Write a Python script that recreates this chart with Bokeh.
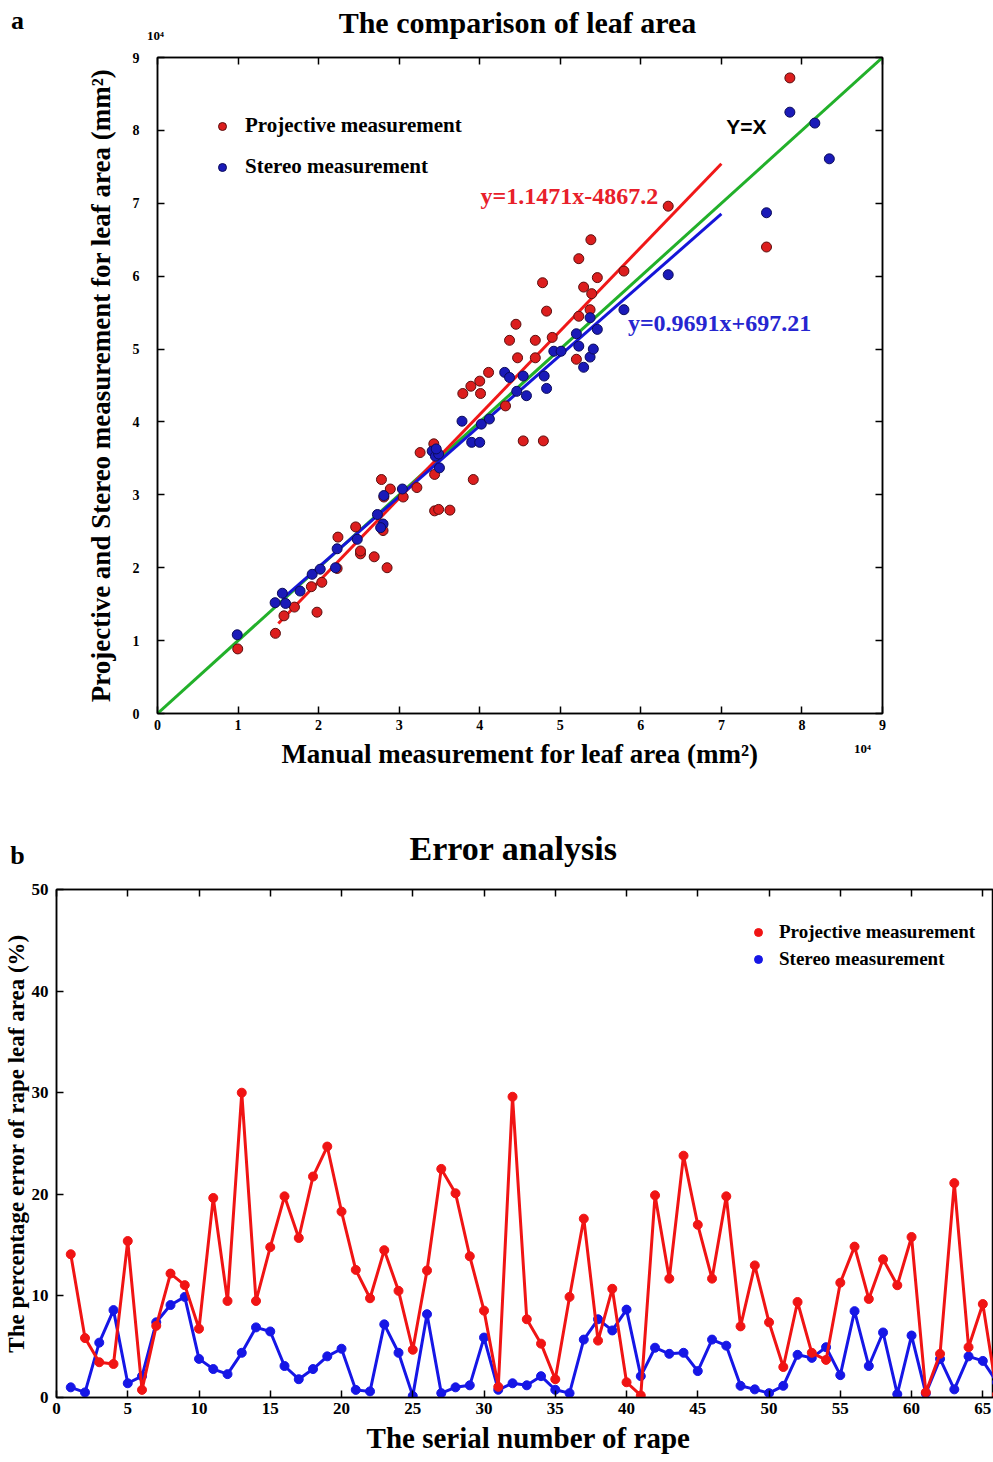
from bokeh.plotting import figure
from bokeh.models import (Range1d, LinearAxis, Label, Legend, LegendItem,
                          CustomJSTickFormatter, FixedTicker)
from bokeh.embed import file_html
from bokeh.resources import INLINE

SERIF = "Liberation Serif"

# ---------------- Panel a data (mm^2) ----------------
proj_manual = [9960, 14640, 15700, 17000, 19100, 19800, 20400, 22300, 22400, 24600,
               25200, 25200, 26900, 28000, 28500, 27800, 28100, 28900, 30500, 32200,
               32600, 34300, 34400, 34400, 34900, 36300, 39200, 37900, 38900, 40000,
               40100, 41100, 43200, 44700, 43700, 46900, 46900, 45400, 47900, 52000,
               44500, 49000, 52300, 53700, 48300, 47800, 52900, 53900, 54600, 52300,
               53800, 57900, 63400, 75600, 78500]
proj_area = [8860, 11000, 13400, 14600, 17400, 13900, 18000, 19900, 24200, 25600,
             21900, 22300, 21500, 25100, 20000, 32100, 29700, 30800, 29700, 31000,
             35800, 37000, 32800, 27800, 28000, 27900, 32100, 43900, 44900, 45600,
             43900, 46800, 42200, 48800, 51200, 51200, 48800, 37400, 37400, 48600,
             53400, 51600, 54500, 55400, 55200, 59100, 58500, 57600, 59800, 62400,
             65000, 60700, 69600, 64000, 87200]

stereo_manual = [9900, 14600, 15500, 15900, 17700, 19200, 20200, 22100, 22300, 24800,
                 27300, 28000, 27700, 28100, 30400, 34100, 34500, 34900, 34600, 35000,
                 37800, 39000, 40000, 40200, 41200, 43100, 43700, 44600, 45400, 45800,
                 48000, 48300, 49200, 50100, 52300, 52900, 53700, 54100, 57900, 53700,
                 54600, 52000, 78500, 81600, 83400, 75600, 63400]
stereo_area = [10800, 15200, 16500, 15100, 16800, 19100, 19800, 20000, 22600, 23900,
               27300, 26000, 25500, 29900, 30800, 36000, 35300, 35600, 36300, 33700,
               40100, 37200, 37200, 39700, 40400, 46800, 46100, 44200, 46300, 43600,
               46300, 44600, 49700, 49700, 50400, 47500, 48900, 50000, 55400, 54300,
               52700, 52100, 82500, 81000, 76100, 68700, 60200]

identity_x = [0, 90000]
proj_fit_x = [15000, 70000]
stereo_fit_x = [15500, 70000]
proj_fit_y = [1.1471 * v - 4867.2 for v in proj_fit_x]
stereo_fit_y = [0.9691 * v + 697.21 for v in stereo_fit_x]
axis_ticks_a = [0, 10000, 20000, 30000, 40000, 50000, 60000, 70000, 80000, 90000]

# ---------------- Panel b data (%) ----------------
serial = list(range(1, 67))
proj_err = [14.1, 5.85, 3.47, 3.3, 15.4, 0.75, 7.05, 12.2, 11.06, 6.77,
            19.64, 9.5, 30.0, 9.5, 14.8, 19.8, 15.7, 21.75, 24.7, 18.3,
            12.56, 9.77, 14.5, 10.5, 4.7, 12.5, 22.5, 20.1, 13.9, 8.55,
            1.05, 29.6, 7.7, 5.3, 1.8, 9.9, 17.6, 5.6, 10.7, 1.5,
            0.2, 19.9, 11.7, 23.8, 17.0, 11.7, 19.8, 7.0, 13.0, 7.4,
            3.0, 9.4, 4.4, 3.7, 11.3, 14.85, 9.7, 13.6, 11.05, 15.8,
            0.5, 4.3, 21.1, 4.95, 9.2, 0.3]
stereo_err = [1.0, 0.5, 5.4, 8.6, 1.4, 2.1, 7.4, 9.1, 9.9, 3.8,
              2.8, 2.3, 4.4, 6.9, 6.5, 3.1, 1.8, 2.8, 4.05, 4.8,
              0.75, 0.6, 7.2, 4.4, 0.16, 8.2, 0.43, 1.0, 1.2, 5.9,
              0.76, 1.4, 1.2, 2.1, 0.76, 0.43, 5.7, 7.7, 6.6, 8.65,
              2.1, 4.9, 4.3, 4.4, 2.6, 5.7, 5.1, 1.15, 0.8, 0.43,
              1.15, 4.2, 3.9, 4.95, 2.2, 8.5, 3.1, 6.4, 0.33, 6.1,
              0.4, 3.8, 0.8, 4.05, 3.6, 1.5]
x_ticks_b = [0, 5, 10, 15, 20, 25, 30, 35, 40, 45, 50, 55, 60, 65]
y_ticks_b = [0, 10, 20, 30, 40, 50]

RED_PT, RED_EDGE = "#dc1e1e", "#5a0f0f"
BLUE_PT, BLUE_EDGE = "#1a1ab8", "#0c0c5a"
GREEN = "#22b02a"


def style_axis(ax, size="14px"):
    ax.major_tick_in = 7
    ax.major_tick_out = 0
    ax.minor_tick_line_color = None
    ax.axis_line_width = 1.5
    ax.major_tick_line_width = 1.5
    ax.major_label_text_font = SERIF
    ax.major_label_text_font_style = "bold"
    ax.major_label_text_font_size = size
    ax.major_label_text_color = "black"
    ax.axis_label_text_font = SERIF
    ax.axis_label_text_font_style = "bold"
    ax.axis_label_text_color = "black"


def canvas_text(text, x, y, size, color="black", font=SERIF, align="center"):
    return Label(x=x, y=y, x_units="canvas", y_units="canvas", text=text,
                 text_align=align, text_baseline="middle", text_color=color,
                 text_font=font, text_font_style="bold", text_font_size=size)


# ================= Panel a =================
p1 = figure(frame_width=725, frame_height=656,
            min_border_left=157, min_border_right=103,
            min_border_top=57, min_border_bottom=77,
            x_range=Range1d(0, 90000), y_range=Range1d(0, 90000),
            output_backend="svg", toolbar_location=None)
p1.grid.visible = False
p1.outline_line_color = "black"
p1.outline_line_width = 1.5

fmt_a = CustomJSTickFormatter(code="return (tick/10000).toFixed(0);")
blank = CustomJSTickFormatter(code="return '';")
for ax in (p1.xaxis[0], p1.yaxis[0]):
    ax.ticker = FixedTicker(ticks=axis_ticks_a)
    ax.formatter = fmt_a
    style_axis(ax, "14px")
    ax.axis_label_text_font_size = "27px"
p1.xaxis[0].axis_label = "Manual measurement for leaf area (mm²)"
p1.yaxis[0].axis_label = "Projective and Stereo measurement for leaf area (mm²)"
p1.xaxis[0].major_label_standoff = 6
p1.xaxis[0].axis_label_standoff = 6
p1.yaxis[0].major_label_standoff = 18
p1.yaxis[0].axis_label_standoff = 14
for loc in ("above", "right"):
    ax = LinearAxis(ticker=FixedTicker(ticks=axis_ticks_a), formatter=blank)
    style_axis(ax)
    ax.major_label_standoff = 0
    ax.major_label_text_font_size = "1px"
    p1.add_layout(ax, loc)

p1.line(identity_x, identity_x, line_color=GREEN, line_width=3)
p1.line(proj_fit_x, proj_fit_y, line_color="#f01818", line_width=3)
p1.line(stereo_fit_x, stereo_fit_y, line_color="#1515d8", line_width=3)
r_red = p1.scatter(proj_manual, proj_area, size=10, fill_color=RED_PT,
                   line_color=RED_EDGE, line_width=1)
r_blue = p1.scatter(stereo_manual, stereo_area, size=10, fill_color=BLUE_PT,
                    line_color=BLUE_EDGE, line_width=1)

leg1 = Legend(items=[LegendItem(label="Projective measurement", renderers=[r_red]),
                     LegendItem(label="Stereo measurement", renderers=[r_blue])],
              location=(55, 534), padding=0, margin=0, spacing=16,
              glyph_width=20, glyph_height=22, label_height=22, label_standoff=13,
              label_text_font=SERIF, label_text_font_style="bold",
              label_text_font_size="21px", label_text_color="black",
              border_line_color=None, background_fill_alpha=0)
p1.add_layout(leg1)

p1.add_layout(Label(x=40100, y=71000, text="y=1.1471x-4867.2", text_color="#e8202a",
                    text_font=SERIF, text_font_style="bold", text_font_size="24px",
                    text_baseline="middle"))
p1.add_layout(Label(x=58400, y=53600, text="y=0.9691x+697.21", text_color="#2626d0",
                    text_font=SERIF, text_font_style="bold", text_font_size="24px",
                    text_baseline="middle"))
p1.add_layout(Label(x=70600, y=80500, text="Y=X", text_color="black",
                    text_font="Liberation Sans", text_font_style="bold",
                    text_font_size="21px", text_baseline="middle"))

p1.add_layout(canvas_text("The comparison of leaf area", 517, 22, "30px"), "above")
p1.add_layout(canvas_text("a", 17, 20, "26px"), "left")
p1.add_layout(canvas_text("10⁴", 155, 35, "13px"), "left")
p1.add_layout(canvas_text("10⁴", 862, 748, "13px"), "right")

# ================= Panel b =================
p2 = figure(frame_width=937, frame_height=508,
            min_border_left=55, min_border_right=0,
            min_border_top=99, min_border_bottom=63,
            x_range=Range1d(0, 65.75), y_range=Range1d(0, 50),
            output_backend="svg", toolbar_location=None)
p2.grid.visible = False
p2.outline_line_color = "black"
p2.outline_line_width = 1.5

p2.xaxis[0].ticker = FixedTicker(ticks=x_ticks_b)
p2.yaxis[0].ticker = FixedTicker(ticks=y_ticks_b)
for ax in (p2.xaxis[0], p2.yaxis[0]):
    style_axis(ax, "17px")
p2.xaxis[0].major_label_standoff = 5
p2.yaxis[0].axis_label = "The percentage error of rape leaf area (%)"
p2.yaxis[0].axis_label_text_font_size = "23px"
p2.yaxis[0].major_label_standoff = 8
p2.yaxis[0].axis_label_standoff = 0
top_b = LinearAxis(ticker=FixedTicker(ticks=x_ticks_b), formatter=blank)
style_axis(top_b)
top_b.major_label_standoff = 0
top_b.major_label_text_font_size = "1px"
p2.add_layout(top_b, "above")

RED_L, BLUE_L = "#f01414", "#1616e6"
p2.line(serial, stereo_err, line_color=BLUE_L, line_width=3)
rb = p2.scatter(serial, stereo_err, size=9, color=BLUE_L)
p2.line(serial, proj_err, line_color=RED_L, line_width=3)
rr = p2.scatter(serial, proj_err, size=9, color=RED_L)

leg2 = Legend(items=[LegendItem(label="Projective measurement", renderers=[rr]),
                     LegendItem(label="Stereo measurement", renderers=[rb])],
              location=(692, 427), padding=0, margin=0, spacing=5,
              glyph_width=20, glyph_height=20, label_height=20, label_standoff=11,
              label_text_font=SERIF, label_text_font_style="bold",
              label_text_font_size="19px", label_text_color="black",
              border_line_color=None, background_fill_alpha=0)
p2.add_layout(leg2)

p2.add_layout(canvas_text("Error analysis", 513, 58, "34px"), "above")
p2.add_layout(canvas_text("b", 17, 65, "26px"), "above")
p2.add_layout(canvas_text("The serial number of rape", 528, 647, "29px"), "below")

open("out.html", "w").write(file_html([p1, p2], INLINE))
